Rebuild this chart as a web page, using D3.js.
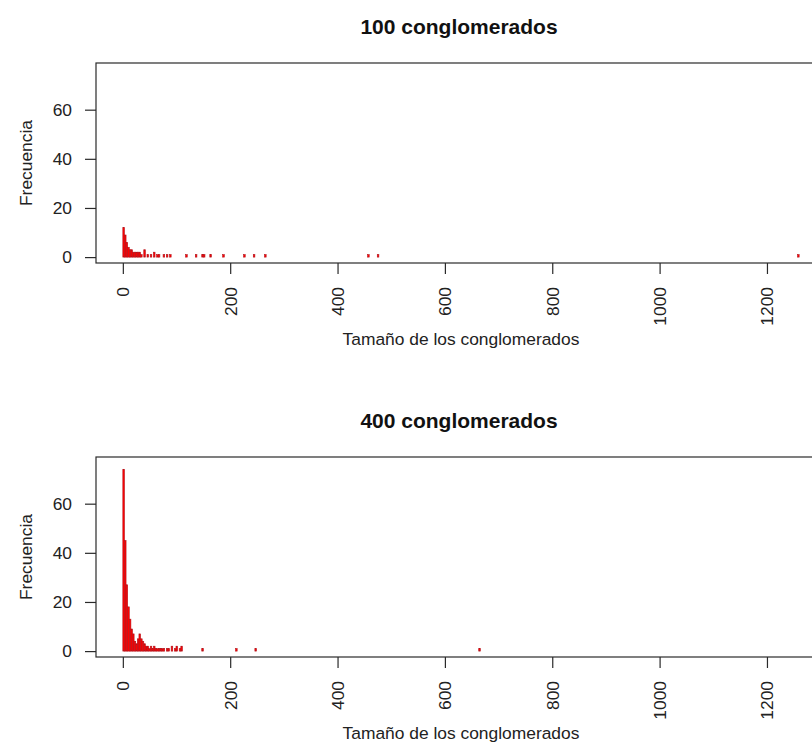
<!DOCTYPE html>
<html>
<head>
<meta charset="utf-8">
<script src="https://cdn.jsdelivr.net/npm/d3@7"></script>
<style>
  body { margin: 0; background: #fff; }
  svg { display: block; font-family: 'Liberation Sans', Arial, sans-serif; }
</style>
</head>
<body>
<div id="chart"></div>
<script>
// bin width (cluster size units)
const binWidth = 3;

// 100 clusters: bin start and frequency
const bins100 = [0, 3, 6, 9, 12, 15, 18, 21, 24, 27, 30, 33, 39, 45, 51, 57, 63, 66, 75, 81, 87, 117, 135, 147, 150, 162, 186, 225, 243, 264, 456, 474, 1257];
const freq100 = [12, 9, 6, 4, 3, 3, 2, 2, 2, 2, 2, 1, 3, 1, 1, 2, 1, 1, 1, 1, 1, 1, 1, 1, 1, 1, 1, 1, 1, 1, 1, 1, 1];

// 400 clusters
const bins400 = [0, 3, 6, 9, 12, 15, 18, 21, 24, 27, 30, 33, 36, 39, 42, 45, 48, 51, 54, 57, 60, 63, 66, 69, 72, 75, 81, 84, 90, 96, 99, 105, 108, 147, 210, 246, 663];
const freq400 = [74, 45, 27, 18, 13, 9, 7, 4, 3, 5, 7, 5, 4, 3, 2, 2, 1, 2, 1, 2, 1, 1, 1, 1, 1, 1, 1, 1, 2, 1, 2, 1, 2, 1, 1, 1, 1];

const xTicks = [0, 200, 400, 600, 800, 1000, 1200];
const yTicks = [0, 20, 40, 60];

const titles = ['100 conglomerados', '400 conglomerados'];
const xLabel = 'Tamaño de los conglomerados';
const yLabel = 'Frecuencia';

const W = 812, H = 743;
const svg = d3.select('#chart').append('svg').attr('width', W).attr('height', H);

function drawPanel(bins, freqs, title, offsetY) {
  const box = { left: 96, right: 826, top: 63 + offsetY, bottom: 263 + offsetY };
  const g = svg.append('g');

  const x = d3.scaleLinear().domain([-50, 1310]).range([box.left, box.right]);
  const y = d3.scaleLinear().domain([-2.4, 79]).range([box.bottom, box.top]);

  const data = bins.map((b, i) => ({ start: b, count: freqs[i] }));

  // bars
  g.selectAll('rect.bar')
    .data(data)
    .enter()
    .append('rect')
    .attr('class', 'bar')
    .attr('x', (d) => x(d.start))
    .attr('width', (d) => x(d.start + binWidth) - x(d.start))
    .attr('y', (d) => y(d.count))
    .attr('height', (d) => y(0) - y(d.count))
    .attr('fill', '#ff0000')
    .attr('stroke', '#b3121a')
    .attr('stroke-width', 0.6);

  // frame
  g.append('rect')
    .attr('x', box.left)
    .attr('y', box.top)
    .attr('width', box.right - box.left)
    .attr('height', box.bottom - box.top)
    .attr('fill', 'none')
    .attr('stroke', '#2a2a2a')
    .attr('stroke-width', 1.2);

  // x axis
  const xAxis = g.append('g')
    .attr('transform', `translate(0,${box.bottom})`)
    .call(d3.axisBottom(x).tickValues(xTicks).tickSize(11).tickFormat(d3.format('d')));
  xAxis.select('.domain').remove();
  xAxis.selectAll('line').attr('stroke', '#2a2a2a').attr('stroke-width', 1.2);
  xAxis.selectAll('text')
    .attr('fill', '#222')
    .style('font-size', '17.4px')
    .attr('text-anchor', 'end')
    .attr('dy', null)
    .attr('dominant-baseline', 'central')
    .attr('transform', 'translate(0,24) rotate(-90)')
    .attr('x', 0)
    .attr('y', 0);

  // y axis
  const yAxis = g.append('g')
    .attr('transform', `translate(${box.left},0)`)
    .call(d3.axisLeft(y).tickValues(yTicks).tickSize(11).tickPadding(13));
  yAxis.select('.domain').remove();
  yAxis.selectAll('line').attr('stroke', '#2a2a2a').attr('stroke-width', 1.2);
  yAxis.selectAll('text').attr('fill', '#222').style('font-size', '17.4px');

  // labels
  g.append('text')
    .attr('x', (box.left + box.right) / 2 - 2)
    .attr('y', 34 + offsetY)
    .attr('text-anchor', 'middle')
    .style('font-size', '21px')
    .style('font-weight', 'bold')
    .attr('fill', '#111')
    .text(title);

  g.append('text')
    .attr('x', (box.left + box.right) / 2)
    .attr('y', 345 + offsetY)
    .attr('text-anchor', 'middle')
    .style('font-size', '17.4px')
    .attr('fill', '#222')
    .text(xLabel);

  g.append('text')
    .attr('transform', `translate(32,${(box.top + box.bottom) / 2}) rotate(-90)`)
    .attr('text-anchor', 'middle')
    .style('font-size', '17.4px')
    .attr('fill', '#222')
    .text(yLabel);
}

drawPanel(bins100, freq100, titles[0], 0);
drawPanel(bins400, freq400, titles[1], 394);
</script>
</body>
</html>
